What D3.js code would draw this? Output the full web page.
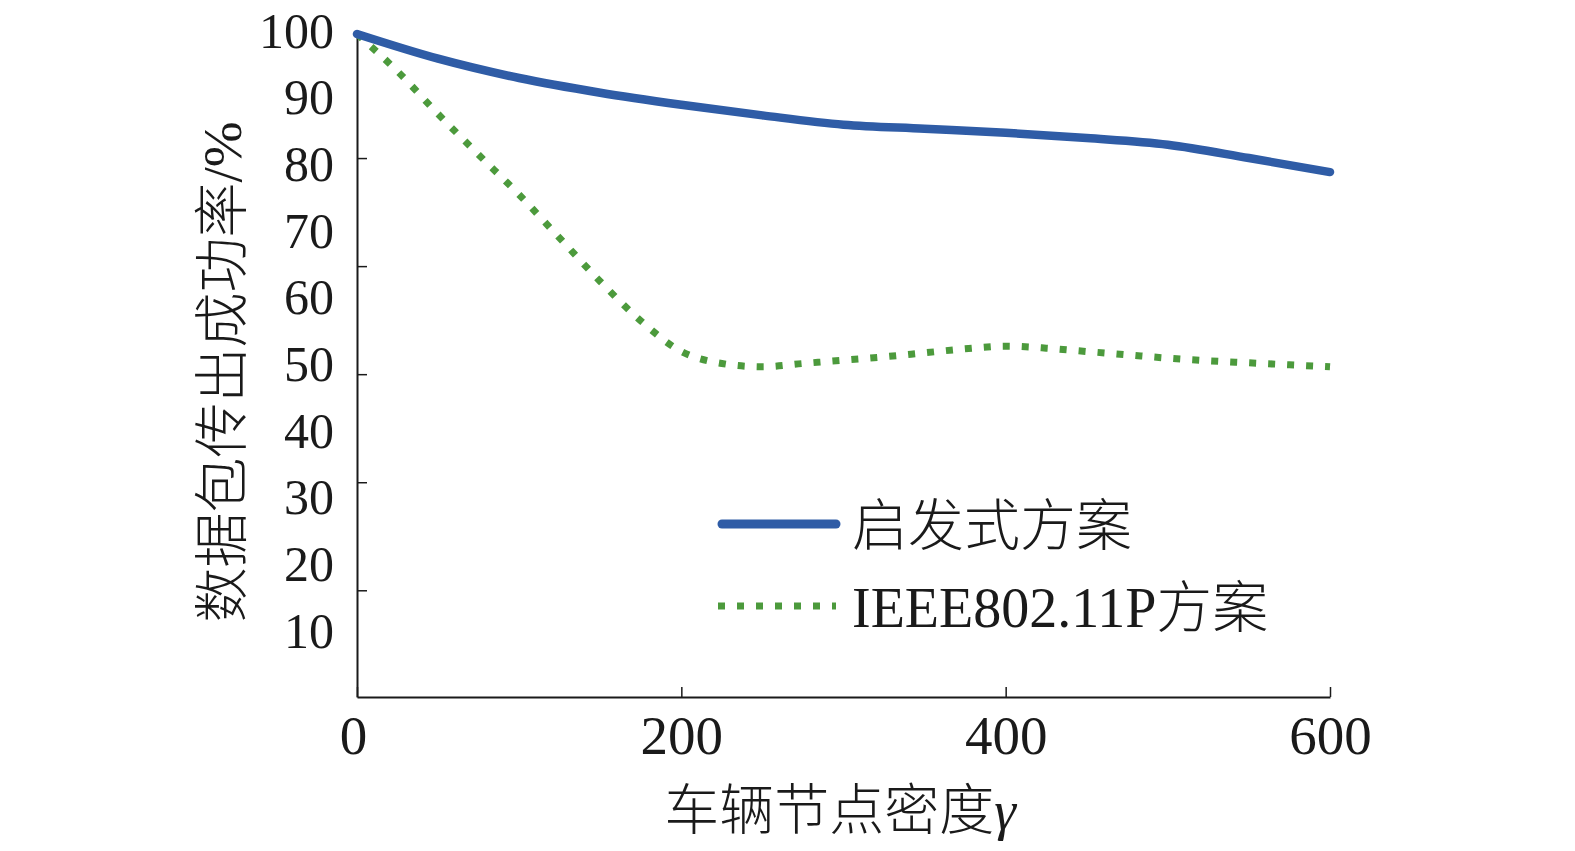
<!DOCTYPE html>
<html>
<head>
<meta charset="utf-8">
<script src="https://cdn.jsdelivr.net/npm/d3@7"></script>
<style>
  body { margin: 0; background: #fff; }
  text { font-family: "Liberation Serif", "Times New Roman", "Noto Sans CJK SC", serif; font-weight: 300; fill: #1a1a1a; }
</style>
</head>
<body>
<script>
// data
var blueDensity = [0, 50, 100, 150, 200, 250, 300, 350, 400, 450, 500, 550, 600];
var blueValues  = [99.4, 95.7, 92.8, 90.6, 88.8, 87.2, 85.8, 85.2, 84.6, 83.8, 82.8, 80.8, 78.7];

var greenDensity = [0, 25, 50, 75, 100, 125, 150, 175, 200, 225, 250, 275, 300,
                    325, 350, 375, 400, 425, 450, 475, 500, 525, 550, 575, 600];
var greenValues  = [99.4, 93.8, 87.4, 81.3, 75.3, 68.8, 62.3, 56.4, 51.8, 50.0, 49.5, 50.0, 50.5,
                    51.0, 51.6, 52.2, 52.6, 52.3, 51.8, 51.3, 50.8, 50.4, 50.1, 49.8, 49.5];

var seriesNames = ["启发式方案", "IEEE802.11P方案"];
var xTickValues = [0, 200, 400, 600];
var yLabelValues = [100, 90, 80, 70, 60, 50, 40, 30, 20, 10];
// tick marks on the y axis do not line up with the labels in the original
var yTickValues = [16, 32.2, 48.4, 64.6, 80.8];

var width = 1575, height = 851;

var svg = d3.select("body").append("svg")
    .attr("width", width)
    .attr("height", height);

var x = d3.scaleLinear().domain([0, 600]).range([357, 1330]);
var y = d3.scaleLinear().domain([0, 100]).range([697, 30]);

var blue = "#2f5ca6", green = "#4c9a3c";

// x axis
var xAxis = svg.append("g")
    .attr("transform", "translate(0," + y(0) + ")")
    .call(d3.axisBottom(x).tickValues(xTickValues).tickSizeInner(-10).tickSizeOuter(0).tickFormat(d3.format("d")));
xAxis.select(".domain").attr("stroke", "#1a1a1a").attr("stroke-width", 2);
xAxis.selectAll(".tick line").attr("stroke", "#1a1a1a").attr("stroke-width", 1.5);
xAxis.selectAll(".tick text")
    .attr("y", 38)
    .attr("dy", "0.35em")
    .style("font-size", "55px");
xAxis.select(".tick text").attr("dx", -4);

// y axis: ticks only, labels drawn separately
var yAxis = svg.append("g")
    .attr("transform", "translate(" + x(0) + ",0)")
    .call(d3.axisLeft(y).tickValues(yTickValues).tickSizeInner(-10).tickSizeOuter(0).tickFormat(""));
yAxis.select(".domain").attr("stroke", "#1a1a1a").attr("stroke-width", 2);
yAxis.selectAll(".tick line").attr("stroke", "#1a1a1a").attr("stroke-width", 1.5);

svg.append("g").selectAll("text")
    .data(yLabelValues)
    .enter().append("text")
    .attr("x", 334)
    .attr("y", function(d) { return y(d); })
    .attr("dy", "0.35em")
    .attr("text-anchor", "end")
    .style("font-size", "50px")
    .text(function(d) { return d; });

// axis titles
svg.append("text")
    .attr("x", 840)
    .attr("y", 810)
    .attr("dy", "0.35em")
    .attr("text-anchor", "middle")
    .style("font-size", "55px")
    .text("车辆节点密度")
    .append("tspan")
        .style("font-style", "italic")
        .text("γ");

svg.append("text")
    .attr("transform", "translate(222,372) rotate(-90)")
    .attr("dy", "0.35em")
    .attr("text-anchor", "middle")
    .style("font-size", "55px")
    .text("数据包传出成功率/%");

// lines
var line = d3.line()
    .x(function(d) { return x(d[0]); })
    .y(function(d) { return y(d[1]); })
    .curve(d3.curveMonotoneX);

svg.append("path")
    .datum(d3.zip(greenDensity, greenValues))
    .attr("d", line)
    .attr("fill", "none")
    .attr("stroke", green)
    .attr("stroke-width", 7)
    .attr("stroke-dasharray", "7,12");

svg.append("path")
    .datum(d3.zip(blueDensity, blueValues))
    .attr("d", line)
    .attr("fill", "none")
    .attr("stroke", blue)
    .attr("stroke-width", 8.5)
    .attr("stroke-linecap", "round");

// legend
var legend = svg.append("g");
legend.append("line")
    .attr("x1", 722).attr("x2", 836)
    .attr("y1", 524).attr("y2", 524)
    .attr("stroke", blue)
    .attr("stroke-width", 9)
    .attr("stroke-linecap", "round");
legend.append("line")
    .attr("x1", 718).attr("x2", 836)
    .attr("y1", 606).attr("y2", 606)
    .attr("stroke", green)
    .attr("stroke-width", 7)
    .attr("stroke-dasharray", "7,12");
legend.selectAll("text")
    .data(seriesNames)
    .enter().append("text")
    .attr("x", 852)
    .attr("y", function(d, i) { return i == 0 ? 525 : 607; })
    .attr("dy", "0.35em")
    .style("font-size", "56px")
    .text(function(d) { return d; });
</script>
</body>
</html>
